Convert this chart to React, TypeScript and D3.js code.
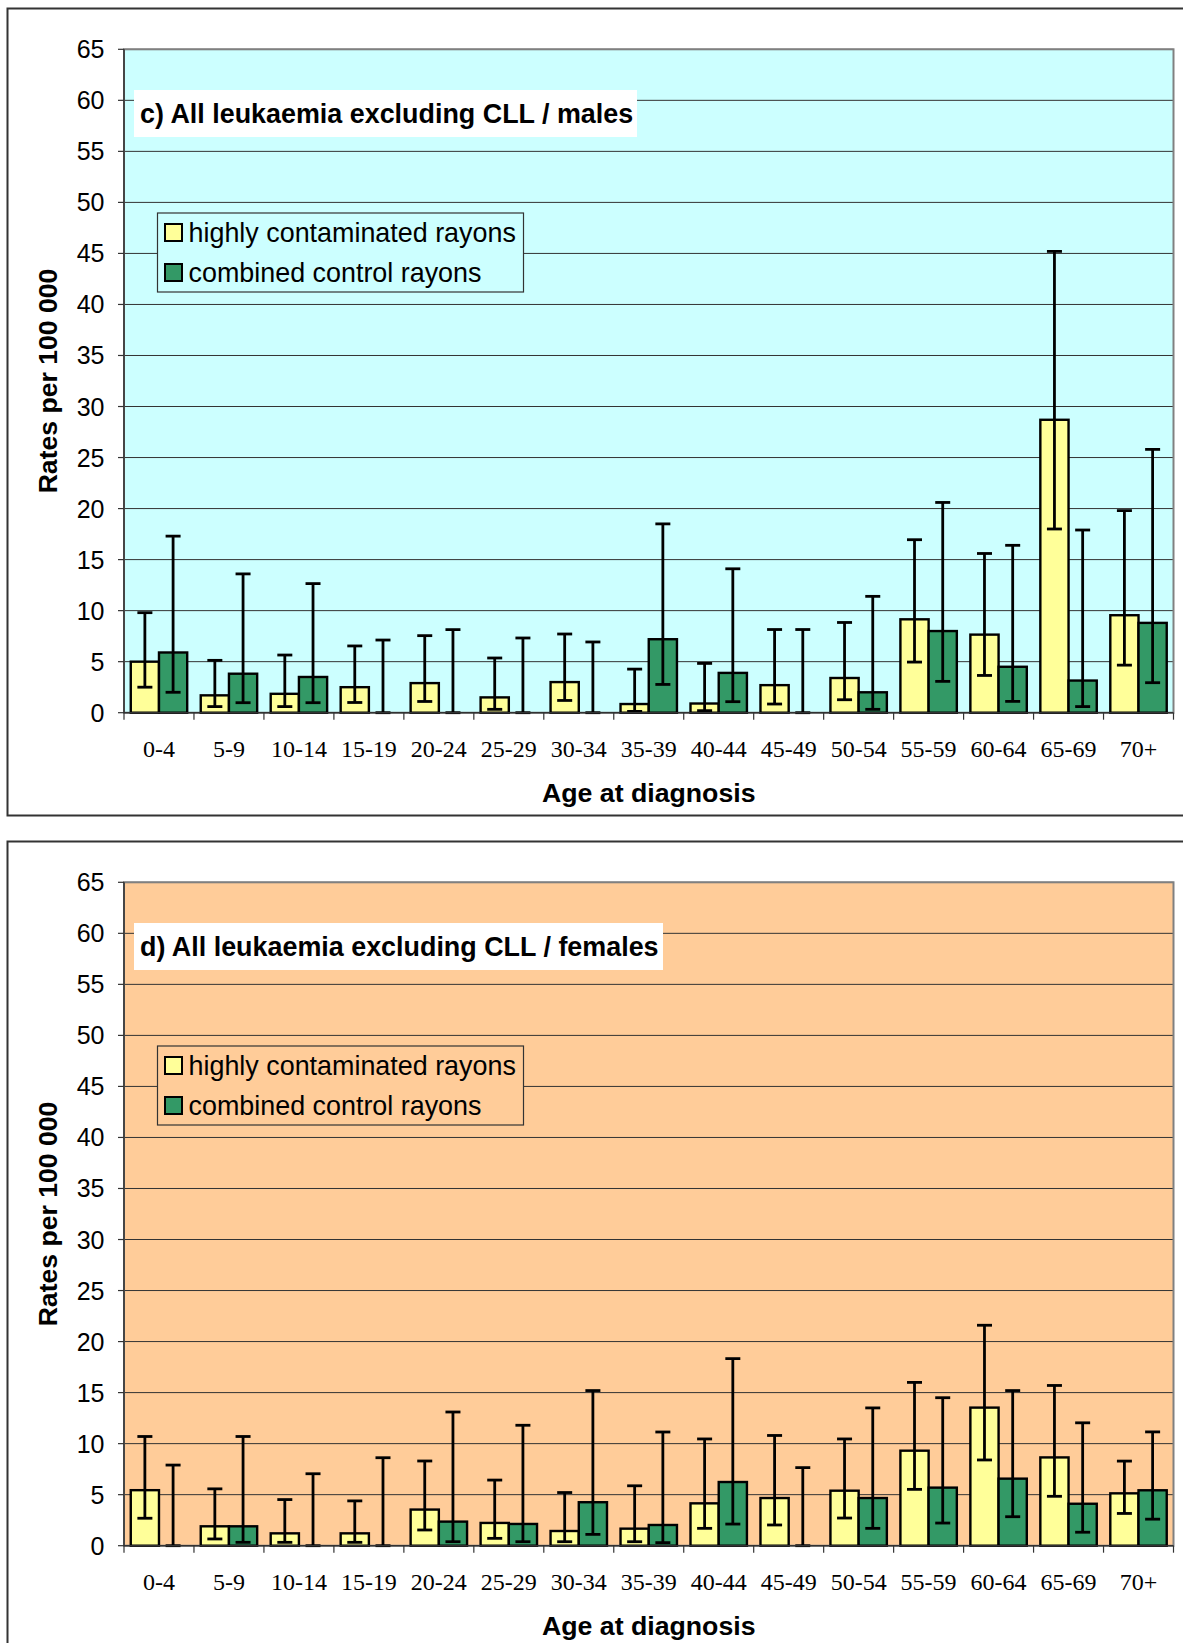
import React from 'react'
import * as d3 from 'd3'

const ageGroups = ['0-4', '5-9', '10-14', '15-19', '20-24', '25-29', '30-34', '35-39', '40-44', '45-49', '50-54', '55-59', '60-64', '65-69', '70+']
const seriesNames = ['highly contaminated rayons', 'combined control rayons']
const yTicks = d3.range(0, 70, 5)

// c) males
const maleHigh = [5.0, 1.7, 1.85, 2.5, 2.9, 1.5, 3.0, 0.85, 0.9, 2.7, 3.4, 9.15, 7.65, 28.7, 9.55]
const maleHighLo = [2.5, 0.6, 0.6, 1.0, 1.1, 0.33, 1.2, 0.13, 0.2, 0.85, 1.27, 4.96, 3.65, 18.0, 4.66]
const maleHighUp = [9.8, 5.13, 5.65, 6.54, 7.55, 5.36, 7.71, 4.27, 4.83, 8.15, 8.84, 16.95, 15.6, 45.2, 19.8]
const maleCtrl = [5.9, 3.82, 3.5, 0, 0, 0, 0, 7.2, 3.9, 0, 2.0, 8.0, 4.5, 3.15, 8.8]
const maleCtrlLo = [2.0, 0.98, 0.98, 0, 0, 0, 0, 2.77, 1.08, 0, 0.33, 3.07, 1.11, 0.6, 2.94]
const maleCtrlUp = [17.3, 13.6, 12.65, 7.12, 8.14, 7.32, 6.93, 18.5, 14.1, 8.15, 11.4, 20.6, 16.4, 17.9, 25.8]

// d) females
const femHigh = [5.44, 1.9, 1.21, 1.21, 3.54, 2.23, 1.44, 1.67, 4.15, 4.67, 5.39, 9.31, 13.53, 8.65, 5.13]
const femHighLo = [2.69, 0.66, 0.33, 0.33, 1.54, 0.72, 0.39, 0.39, 1.7, 2.03, 2.71, 5.52, 8.4, 4.84, 3.16]
const femHighUp = [10.7, 5.57, 4.52, 4.39, 8.3, 6.43, 5.21, 5.87, 10.46, 10.8, 10.46, 16.0, 21.6, 15.7, 8.29]
const femCtrl = [0, 1.9, 0, 0, 2.36, 2.13, 4.26, 2.03, 6.24, 0, 4.67, 5.69, 6.57, 4.11, 5.43]
const femCtrlLo = [0, 0.33, 0, 0, 0.39, 0.39, 1.11, 0.3, 2.12, 0, 1.7, 2.22, 2.84, 1.32, 2.6]
const femCtrlUp = [7.9, 10.7, 7.05, 8.62, 13.1, 11.8, 15.2, 11.14, 18.33, 7.65, 13.5, 14.5, 15.2, 12.04, 11.15]

const colors = ['#FFFF99', '#339966']
const SANS = "'Liberation Sans', Arial, sans-serif"
const SERIF = "'Liberation Serif', 'Times New Roman', serif"

const left = 124
const right = 1173.5
const top = 49.3
const bottom = 712.7

interface Series { vals: number[]; lo: number[]; up: number[] }

interface ChartProps {
  dy: number
  title: string
  titleW: number
  bg: string
  series: Series[]
}

const Chart: React.FC<ChartProps> = ({ dy, title, titleW, bg, series }) => {
  const x0 = d3.scaleBand().domain(ageGroups).range([left, right]).padding(0)
  const x1 = d3.scaleBand().domain(seriesNames).range([0, x0.bandwidth()]).paddingInner(0).paddingOuter(0.24)
  const y = d3.scaleLinear().domain([0, 65]).range([bottom, top])
  const cap = 7.5

  return (
    <g transform={`translate(0,${dy})`}>
      <rect x={7.5} y={8.5} width={1190} height={807} fill="#fff" stroke="#333" strokeWidth={2} />
      <rect x={left} y={top} width={right - left} height={bottom - top} fill={bg} />
      {yTicks.filter(t => t > 0).map(t => (
        <line key={t} x1={left} x2={right} y1={y(t)} y2={y(t)} stroke="#333" strokeWidth={1} />
      ))}
      <rect x={left} y={top} width={right - left} height={bottom - top} fill="none" stroke="#808080" strokeWidth={2} />
      {/* title box */}
      <rect x={134} y={90} width={titleW} height={47} fill="#fff" />
      <text x={140} y={123} fontFamily={SANS} fontWeight="bold" fontSize={26.9} fill="#000">{title}</text>
      {/* bars */}
      {series.map((s, si) => ageGroups.map((g, i) => {
        const bx = x0(g)! + x1(seriesNames[si])!
        const bw = x1.bandwidth()
        const v = s.vals[i]
        if (v <= 0) return null
        return <rect key={`b${si}-${i}`} x={bx} y={y(v)} width={bw} height={y(0) - y(v)} fill={colors[si]} stroke="#000" strokeWidth={2.4} />
      }))}
      {/* error bars */}
      {series.map((s, si) => ageGroups.map((g, i) => {
        const cx = x0(g)! + x1(seriesNames[si])! + x1.bandwidth() / 2
        return (
          <g key={`e${si}-${i}`} stroke="#000" strokeWidth={2.8}>
            <line x1={cx} x2={cx} y1={y(s.lo[i])} y2={y(s.up[i])} />
            <line x1={cx - cap} x2={cx + cap} y1={y(s.up[i])} y2={y(s.up[i])} />
            <line x1={cx - cap} x2={cx + cap} y1={y(s.lo[i])} y2={y(s.lo[i])} />
          </g>
        )
      }))}
      {/* axes */}
      <line x1={left} x2={left} y1={top} y2={bottom} stroke="#333" strokeWidth={1.5} />
      <line x1={left} x2={right} y1={bottom} y2={bottom} stroke="#333" strokeWidth={1.5} />
      {yTicks.map(t => (
        <g key={`yt${t}`}>
          <line x1={left - 6} x2={left} y1={y(t)} y2={y(t)} stroke="#333" strokeWidth={1.2} />
          <text x={104.5} y={y(t)} dy="0.36em" textAnchor="end" fontFamily={SANS} fontSize={25} fill="#000">{t}</text>
        </g>
      ))}
      {d3.range(ageGroups.length + 1).map(i => {
        const xx = left + i * x0.step()
        return <line key={`xt${i}`} x1={xx} x2={xx} y1={bottom} y2={bottom + 7} stroke="#333" strokeWidth={1.2} />
      })}
      {ageGroups.map(g => (
        <text key={`xl${g}`} x={x0(g)! + x0.bandwidth() / 2} y={757} textAnchor="middle" fontFamily={SERIF} fontSize={24} fill="#000">{g}</text>
      ))}
      <text x={(left + right) / 2} y={802} textAnchor="middle" fontFamily={SANS} fontWeight="bold" fontSize={26.7} fill="#000">Age at diagnosis</text>
      <text transform={`translate(57,${(top + bottom) / 2}) rotate(-90)`} textAnchor="middle" fontFamily={SANS} fontWeight="bold" fontSize={26.6} fill="#000">Rates per 100 000</text>
      {/* legend */}
      <rect x={157.5} y={213} width={366} height={79} fill={bg} stroke="#333" strokeWidth={1.2} />
      {seriesNames.map((n, i) => (
        <g key={n}>
          <rect x={165} y={224 + i * 40} width={17} height={17} fill={colors[i]} stroke="#000" strokeWidth={2} />
          <text x={188.5} y={242 + i * 40} fontFamily={SANS} fontSize={26.9} fill="#000">{n}</text>
        </g>
      ))}
    </g>
  )
}

const App: React.FC = () => (
  <>
    <style>{`body{margin:0;background:#fff}`}</style>
    <svg width={1183} height={1643} style={{ display: 'block' }}>
      <rect width={1183} height={1643} fill="#fff" />
      <Chart
        dy={0}
        title="c) All leukaemia excluding CLL / males"
        titleW={503}
        bg="#CCFFFF"
        series={[
          { vals: maleHigh, lo: maleHighLo, up: maleHighUp },
          { vals: maleCtrl, lo: maleCtrlLo, up: maleCtrlUp },
        ]}
      />
      <Chart
        dy={833}
        title="d) All leukaemia excluding CLL / females"
        titleW={529}
        bg="#FFCC99"
        series={[
          { vals: femHigh, lo: femHighLo, up: femHighUp },
          { vals: femCtrl, lo: femCtrlLo, up: femCtrlUp },
        ]}
      />
    </svg>
  </>
)

export default App
